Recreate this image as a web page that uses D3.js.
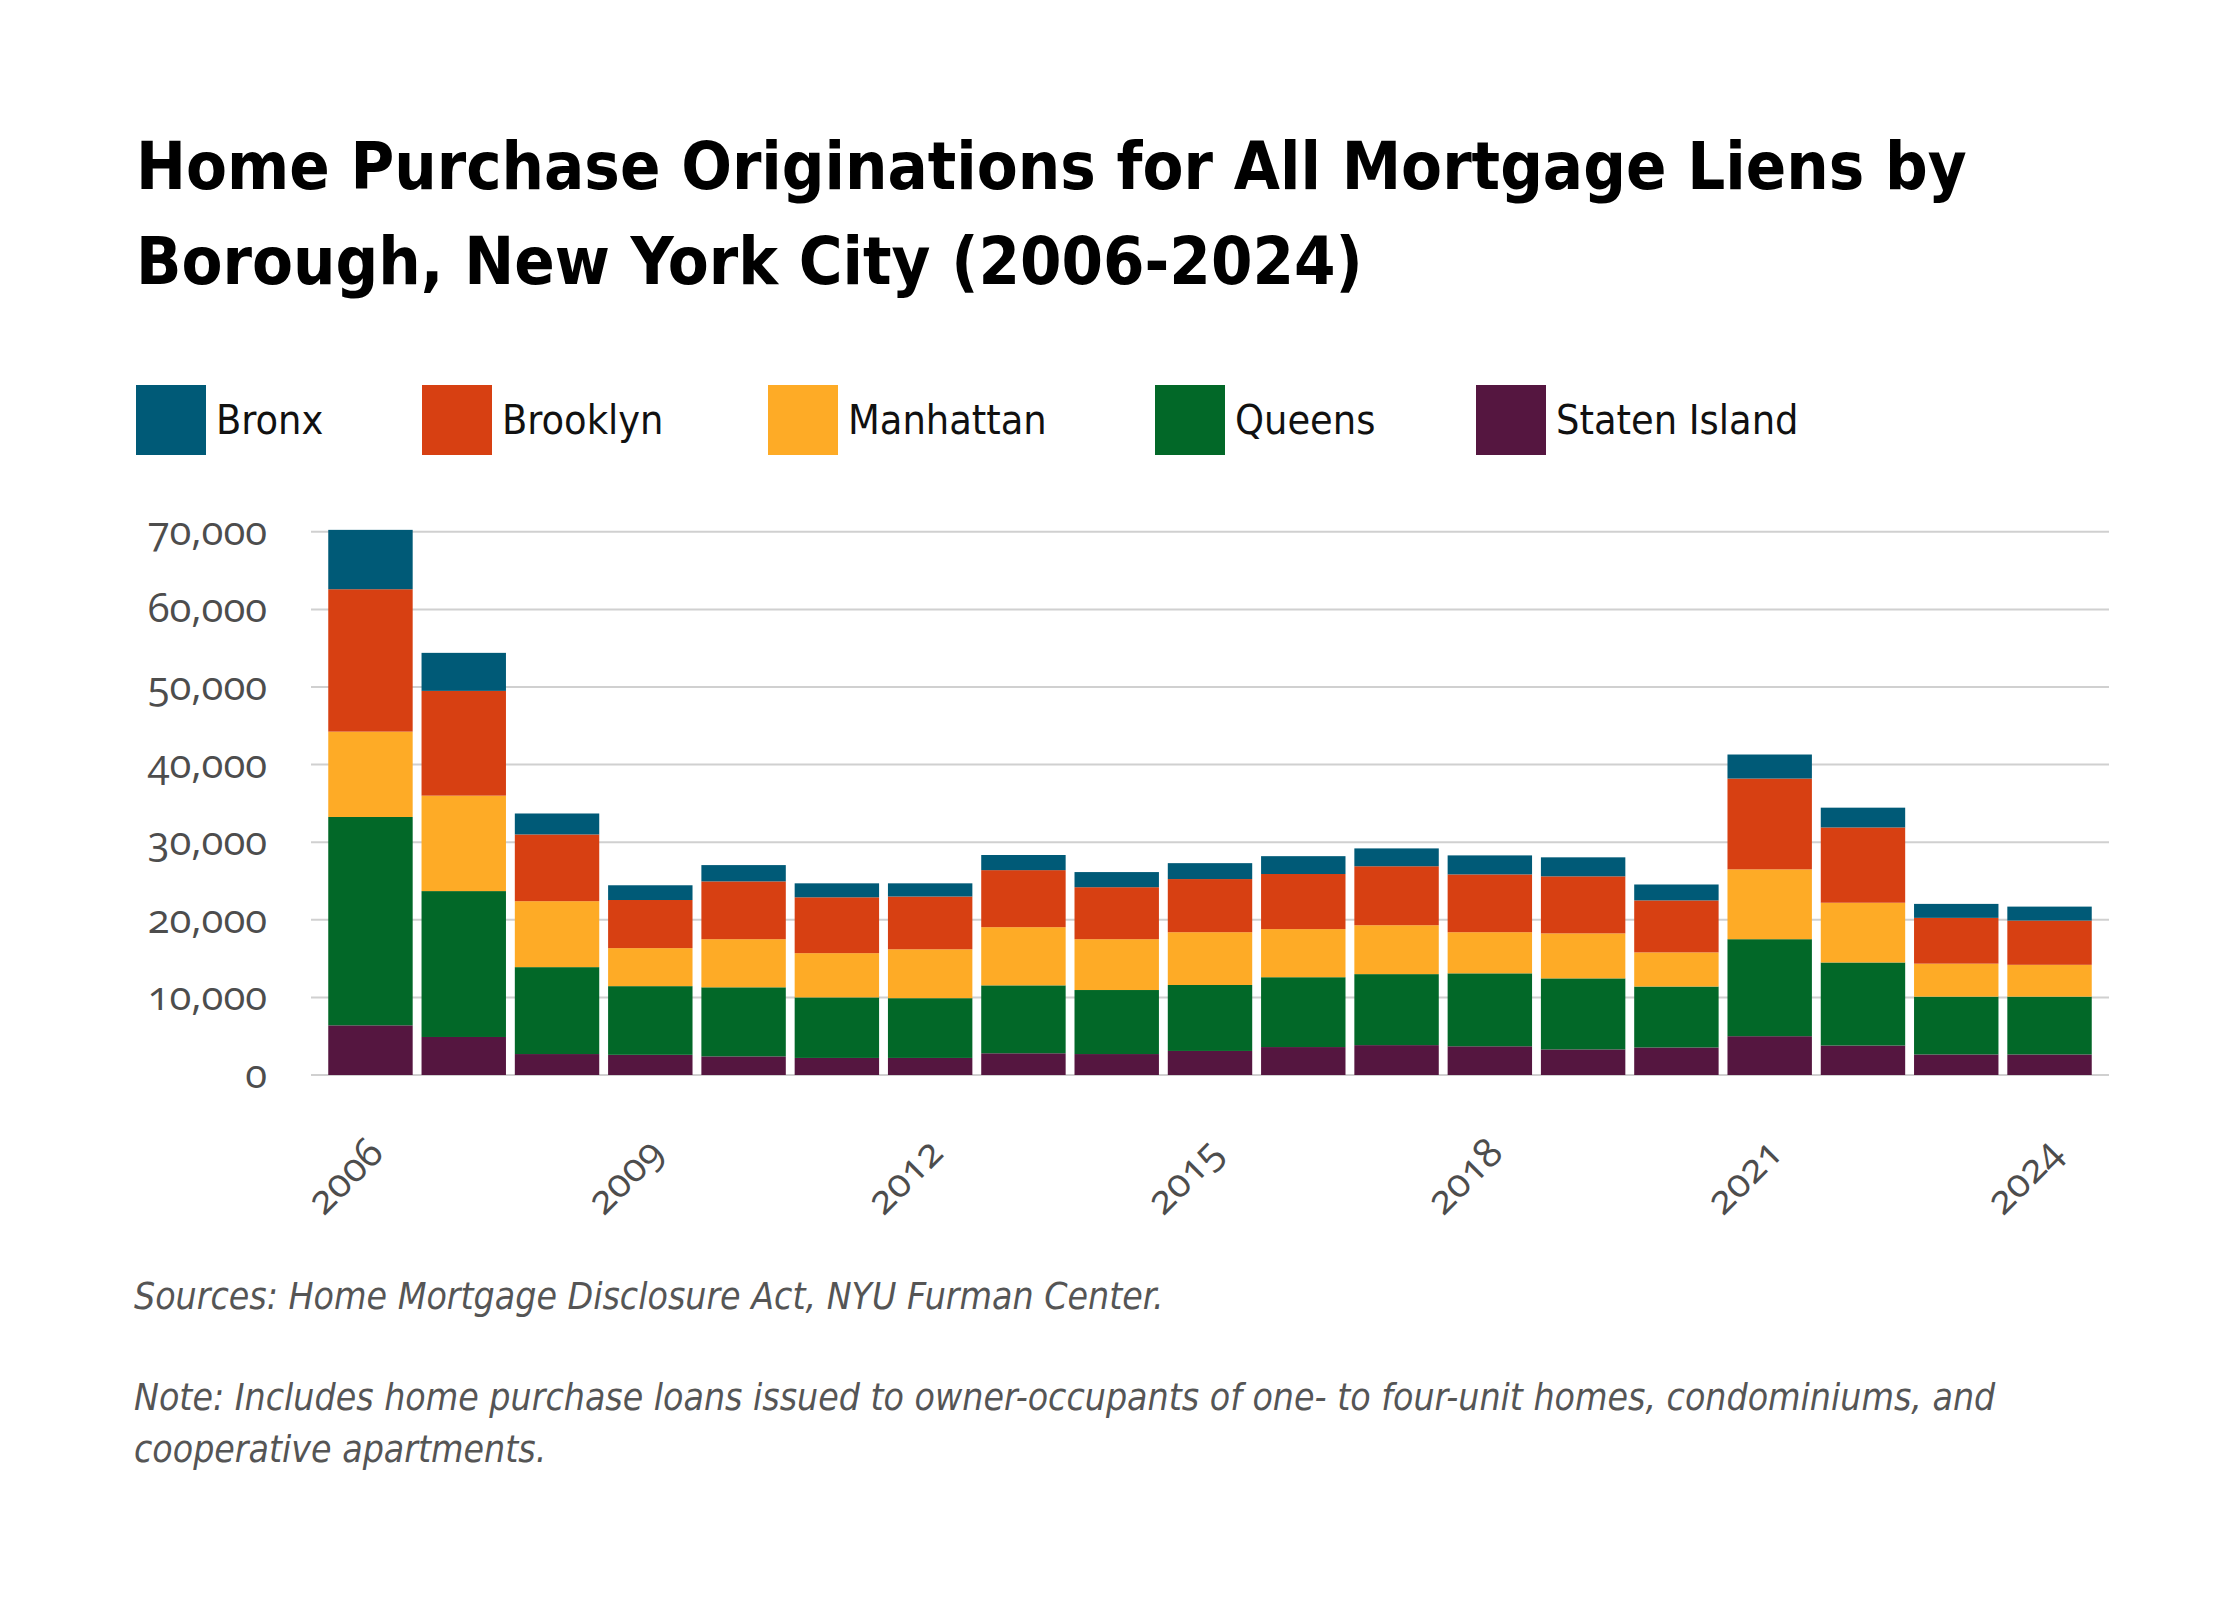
<!DOCTYPE html>
<html><head><meta charset="utf-8">
<script src="https://cdn.jsdelivr.net/npm/d3@7/dist/d3.min.js"></script>
<style>body{margin:0;background:#fff} svg{display:block}</style>
</head><body>
<svg id="c" width="2240" height="1600"></svg>
<script>
// ---------- data ----------
const years = [2006,2007,2008,2009,2010,2011,2012,2013,2014,2015,2016,2017,2018,2019,2020,2021,2022,2023,2024];
const statenIsland = [6400,4900,2700,2600,2400,2200,2200,2800,2700,3100,3600,3850,3700,3300,3550,5000,3800,2650,2650];
const queens      = [26850,18800,11200,8850,8900,7800,7700,8750,8250,8500,9000,9150,9400,9150,7850,12500,10700,7450,7450];
const manhattan   = [11000,12300,8500,4900,6200,5700,6300,7500,6550,6800,6200,6300,5300,5800,4400,9000,7700,4250,4100];
const brooklyn    = [18350,13500,8600,6200,7450,7200,6800,7350,6700,6850,7100,7600,7450,7350,6700,11700,9700,5900,5700];
const bronx       = [7650,4900,2700,1900,2100,1800,1700,1950,1950,2050,2300,2300,2450,2450,2050,3100,2550,1800,1800];
const yTicks = [0,10000,20000,30000,40000,50000,60000,70000];
const xTickYears = [2006,2009,2012,2015,2018,2021,2024];
const legendOrder = ["Bronx","Brooklyn","Manhattan","Queens","Staten Island"];
const stackOrder = ["Staten Island","Queens","Manhattan","Brooklyn","Bronx"];
const colors = {"Bronx":"#005a77","Brooklyn":"#d74012","Manhattan":"#feab26","Queens":"#026828","Staten Island":"#551640"};
const titleLines = ["Home Purchase Originations for All Mortgage Liens by","Borough, New York City (2006-2024)"];
const sourceText = "Sources: Home Mortgage Disclosure Act, NYU Furman Center.";
const noteLines = ["Note: Includes home purchase loans issued to owner-occupants of one- to four-unit homes, condominiums, and","cooperative apartments."];

const series = {"Staten Island":statenIsland,"Queens":queens,"Manhattan":manhattan,"Brooklyn":brooklyn,"Bronx":bronx};
const table = years.map((y,i)=>{const r={year:y}; stackOrder.forEach(k=>r[k]=series[k][i]); return r;});

// ---------- layout ----------
const svg = d3.select("#c");
const condensed = "'DejaVu Sans Condensed','DejaVu Sans',sans-serif";

// pick a font that really supports old-style figures
const candidates = ["Open Sans","Lato","Noto Sans","Roboto"];
let numFont = "'Noto Sans',sans-serif";
for (const f of candidates){
  const a = svg.append("text").attr("font-family",`'${f}'`).attr("font-size",100).text("0123456789");
  const b = svg.append("text").attr("font-family",`'${f}'`).attr("font-size",100)
    .style("font-variant-numeric","oldstyle-nums").text("0123456789");
  const wa = a.node().getComputedTextLength(), wb = b.node().getComputedTextLength();
  a.remove(); b.remove();
  if (Math.abs(wa-wb) > 0.5){ numFont = `'${f}',sans-serif`; break; }
}

const x = d3.scaleBand().domain(years).range([311,2109]).paddingInner(0.095).paddingOuter(0.185);
const y = d3.scaleLinear().domain([0,70000]).range([1075,531.8]);

function fitText(sel, target){
  const w = sel.node().getComputedTextLength();
  const fs = parseFloat(sel.attr("font-size"));
  return fs*target/w;
}

// title
const t1 = svg.append("text").attr("x",136).attr("y",189).attr("font-family",condensed)
  .attr("font-weight","bold").attr("font-size",70).attr("fill","#000").text(titleLines[0]);
const tfs = fitText(t1,1831);
t1.attr("font-size",tfs);
svg.append("text").attr("x",136).attr("y",284).attr("font-family",condensed)
  .attr("font-weight","bold").attr("font-size",tfs).attr("fill","#000").text(titleLines[1]);

// legend
const legX = [136,422,768,1155,1476];
const leg = svg.append("g");
legendOrder.forEach((k,i)=>{
  leg.append("rect").attr("x",legX[i]).attr("y",385).attr("width",70).attr("height",70).attr("fill",colors[k]);
  leg.append("text").attr("x",legX[i]+80).attr("y",434).attr("font-family",condensed)
    .attr("font-size",41).attr("fill","#111").text(k);
});

// gridlines
svg.append("g").selectAll("line").data(yTicks).join("line")
  .attr("x1",311).attr("x2",2109).attr("y1",d=>y(d)).attr("y2",d=>y(d))
  .attr("stroke","#d0d0d0").attr("stroke-width",2);

// y labels
const probe = svg.append("text").attr("font-family",numFont).attr("font-size",34)
  .style("font-variant-numeric","oldstyle-nums").text("70,000");
const nfs = Math.min(40, Math.max(28, fitText(probe,130)));
probe.remove();
svg.append("g").selectAll("text").data(yTicks).join("text")
  .attr("x",267).attr("y",d=>y(d)+13).attr("text-anchor","end")
  .attr("font-family",numFont).attr("font-size",nfs).attr("fill","#4d4d4d")
  .style("font-variant-numeric","oldstyle-nums").text(d=>d3.format(",")(d));

// bars
const stacked = d3.stack().keys(stackOrder)(table);
svg.append("g").selectAll("g").data(stacked).join("g").attr("fill",d=>colors[d.key])
  .selectAll("rect").data(d=>d).join("rect")
  .attr("x",d=>x(d.data.year)).attr("width",x.bandwidth())
  .attr("y",d=>y(d[1])).attr("height",d=>y(d[0])-y(d[1]));

// x labels
svg.append("g").selectAll("text").data(xTickYears).join("text")
  .attr("transform",d=>`translate(${x(d)+x.bandwidth()/2+15},${1155}) rotate(-45)`)
  .attr("text-anchor","end").attr("font-family",numFont).attr("font-size",nfs).attr("fill","#4d4d4d")
  .style("font-variant-numeric","oldstyle-nums").text(d=>d);

// notes
const s1 = svg.append("text").attr("x",134).attr("y",1309).attr("font-family",condensed)
  .attr("font-style","italic").attr("font-size",34).attr("fill","#555").text(sourceText);
const sfs = fitText(s1,1030);
s1.attr("font-size",sfs);
noteLines.forEach((l,i)=>{
  svg.append("text").attr("x",134).attr("y",1410+i*52).attr("font-family",condensed)
    .attr("font-style","italic").attr("font-size",sfs).attr("fill","#555").text(l);
});
</script>
</body></html>
